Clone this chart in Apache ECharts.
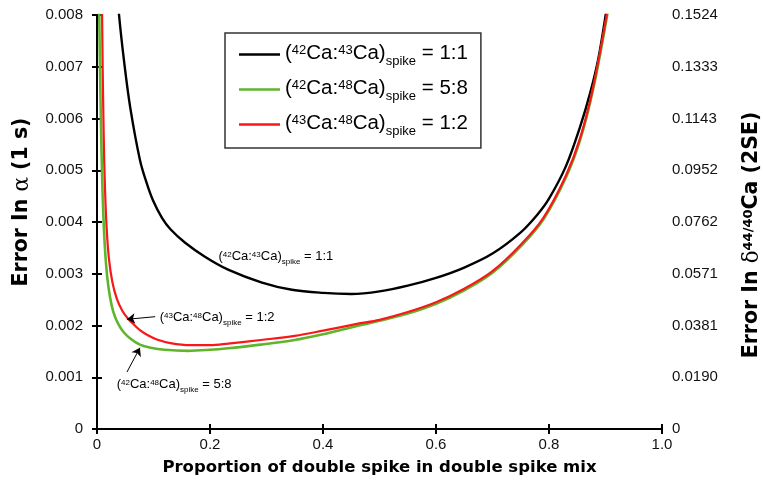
<!DOCTYPE html>
<html>
<head>
<meta charset="utf-8">
<script src="https://cdn.jsdelivr.net/npm/echarts@6/dist/echarts.min.js"></script>
<style>
  html, body { margin: 0; padding: 0; background: #fff; }
  #chart { width: 763px; height: 481px; }
</style>
</head>
<body>
<div id="chart"></div>
<script>
// proportion of double spike in mix -> error in alpha
const spike4243 = [
  [0.035, 0.0086], [0.039, 0.0080], [0.048, 0.0071], [0.059, 0.0062], [0.076, 0.0052],
  [0.088, 0.00475], [0.099, 0.00442], [0.115, 0.00408], [0.130, 0.00386], [0.156, 0.00360],
  [0.191, 0.00333], [0.232, 0.00308], [0.292, 0.00283], [0.345, 0.00269], [0.40, 0.00263],
  [0.45, 0.00261], [0.50, 0.00266], [0.55, 0.00277], [0.60, 0.00292], [0.65, 0.00312],
  [0.70, 0.00339], [0.75, 0.00380], [0.78, 0.00415], [0.80, 0.00445], [0.83, 0.00508],
  [0.855, 0.00584], [0.873, 0.00650], [0.887, 0.00714], [0.901, 0.00805], [0.904, 0.0083]
];
const spike4248 = [
  [0.003, 0.0086], [0.004, 0.0080], [0.005, 0.0072], [0.007, 0.0059], [0.009, 0.0049],
  [0.011, 0.0042], [0.014, 0.0035], [0.018, 0.00295], [0.023, 0.00255], [0.029, 0.00226],
  [0.038, 0.00202], [0.048, 0.00186], [0.060, 0.00174], [0.076, 0.00163], [0.095, 0.00157],
  [0.12, 0.00153], [0.161, 0.00151], [0.20, 0.00153], [0.232, 0.00156], [0.29, 0.00163],
  [0.35, 0.00172], [0.40, 0.00183], [0.46, 0.00199], [0.50, 0.00209], [0.55, 0.00223],
  [0.60, 0.00242], [0.65, 0.00268], [0.70, 0.00302], [0.75, 0.00353], [0.79, 0.00405],
  [0.83, 0.00486], [0.855, 0.00558], [0.878, 0.00656], [0.903, 0.0080], [0.906, 0.0083]
];
const spike4348 = [
  [0.008, 0.0086], [0.009, 0.0080], [0.010, 0.0070], [0.012, 0.0056], [0.014, 0.0047],
  [0.017, 0.0039], [0.021, 0.0033], [0.027, 0.00285], [0.035, 0.00252], [0.045, 0.00228],
  [0.055, 0.00213], [0.066, 0.00201], [0.076, 0.00191], [0.090, 0.00181], [0.106, 0.00173],
  [0.13, 0.00166], [0.165, 0.00162], [0.20, 0.00162], [0.232, 0.00165], [0.29, 0.00172],
  [0.35, 0.00180], [0.40, 0.00190], [0.46, 0.00203], [0.50, 0.00211], [0.55, 0.00226],
  [0.60, 0.00245], [0.65, 0.00271], [0.70, 0.00305], [0.75, 0.00356], [0.79, 0.00408],
  [0.83, 0.00490], [0.855, 0.00562], [0.878, 0.00660], [0.903, 0.00805], [0.906, 0.0083]
];
const xTickLabels = ['0', '0.2', '0.4', '0.6', '0.8', '1.0'];
const leftTickLabels = ['0', '0.001', '0.002', '0.003', '0.004', '0.005', '0.006', '0.007', '0.008'];
const rightTickLabels = ['0', '0.0190', '0.0381', '0.0571', '0.0762', '0.0952', '0.1143', '0.1333', '0.1524'];
const seriesNames = ['4243', '4248', '4348'];
const seriesRatios = [['42', '43', '1:1'], ['42', '48', '5:8'], ['43', '48', '1:2']];
const seriesColors = ['#000000', '#5fb52c', '#f81818'];

const font = 'Liberation Sans, Arial, sans-serif';
const titleFont = 'DejaVu Sans, sans-serif';

function ratioText(r) {
  return '{a|(}{p|' + r[0] + '}{a|Ca:}{p|' + r[1] + '}{a|Ca)}{b|spike}{a| = ' + r[2] + '}';
}
// every token hangs from the line top; paddings shift them down
function ratioRich(size) {
  let k = size / 20;
  let small = Math.round(size * 0.64);
  let lh = Math.round(26 * k);
  let base = { fontFamily: font, color: '#000', lineHeight: lh, verticalAlign: 'top' };
  return {
    a: Object.assign({}, base, { fontSize: size, padding: [Math.round(2 * k), 0, 0, 0] }),
    p: Object.assign({}, base, { fontSize: small, padding: [Math.round(3 * k), 0, 0, 0] }),
    b: Object.assign({}, base, { fontSize: small, padding: [Math.round(14 * k), 0, 0, 0] })
  };
}

const chart = echarts.init(document.getElementById('chart'));

const axisLine = { show: true, lineStyle: { color: '#000', width: 2 } };
const axisTick = { show: true, inside: true, length: 5, lineStyle: { color: '#000', width: 2 } };

chart.setOption({
  animation: false,
  backgroundColor: '#fff',
  grid: { left: 97, right: 101, top: 15, bottom: 52 },
  legend: {
    orient: 'vertical',
    left: 225,
    top: 33,
    padding: [8, 13, 10, 14],
    itemGap: 8,
    itemWidth: 41,
    itemHeight: 2.5,
    icon: 'rect',
    borderColor: '#333',
    borderWidth: 1.5,
    backgroundColor: '#fff',
    data: seriesNames,
    formatter: (name) => ratioText(seriesRatios[seriesNames.indexOf(name)]),
    textStyle: { rich: ratioRich(20.5) }
  },
  xAxis: [{
    type: 'value', position: 'bottom', min: 0, max: 1, interval: 0.2,
    axisLine: axisLine, axisTick: axisTick, splitLine: { show: false },
    axisLabel: {
      fontSize: 15, fontFamily: font, color: '#111', margin: 8,
      formatter: (v) => xTickLabels[Math.round(v / 0.2)]
    },
    name: 'Proportion of double spike in double spike mix',
    nameLocation: 'middle', nameGap: 30,
    nameTextStyle: { fontSize: 16.5, fontWeight: 'bold', fontFamily: titleFont, color: '#000' }
  }, {
    type: 'value', position: 'top', min: 0, max: 1, interval: 0.2,
    axisLine: axisLine, axisTick: axisTick, splitLine: { show: false },
    axisLabel: { show: false }
  }],
  yAxis: [{
    type: 'value', position: 'left', min: 0, max: 0.008, interval: 0.001,
    axisLine: axisLine, axisTick: axisTick, splitLine: { show: false },
    axisLabel: {
      fontSize: 15, fontFamily: font, color: '#111', margin: 14,
      formatter: (v) => leftTickLabels[Math.round(v / 0.001)]
    }
  }, {
    type: 'value', position: 'right', min: 0, max: 0.008, interval: 0.001,
    axisLine: axisLine, axisTick: axisTick, splitLine: { show: false },
    axisLabel: {
      fontSize: 15, fontFamily: font, color: '#111', margin: 10,
      formatter: (v) => rightTickLabels[Math.round(v / 0.001)]
    }
  }],
  graphic: [{
    type: 'text', x: 22, y: 202, rotation: Math.PI / 2,
    style: {
      text: '{a|Error In }{g|α}{a| (1 s)}',
      align: 'center', verticalAlign: 'middle',
      rich: {
        a: { fontSize: 20.5, fontWeight: 'bold', fontFamily: titleFont, fill: '#000' },
        g: { fontSize: 21.5, fontFamily: 'DejaVu Serif, serif', fill: '#000' }
      }
    }
  }, {
    type: 'text', x: 752, y: 235, rotation: Math.PI / 2,
    style: {
      text: '{a|Error In }{g|δ}{s|44/40}{a|Ca (2SE)}',
      align: 'center', verticalAlign: 'middle',
      rich: {
        a: { fontSize: 20.5, fontWeight: 'bold', fontFamily: titleFont, fill: '#000', lineHeight: 26 },
        g: { fontSize: 21.5, fontFamily: 'DejaVu Serif, serif', fill: '#000', lineHeight: 26 },
        s: { fontSize: 13, fontWeight: 'bold', fontFamily: titleFont, fill: '#000', lineHeight: 26,
             verticalAlign: 'top', padding: [3, 0, 0, 0] }
      }
    }
  }],
  series: [{
    name: seriesNames[0], type: 'line', data: spike4243,
    symbol: 'none', smooth: 0.35, clip: true,
    lineStyle: { color: seriesColors[0], width: 2.4 }, itemStyle: { color: seriesColors[0] },
    markPoint: {
      silent: true, symbol: 'circle', symbolSize: 1, itemStyle: { color: 'rgba(0,0,0,0)' },
      label: { show: true, position: 'right', distance: 0, formatter: ratioText(seriesRatios[0]), rich: ratioRich(13) },
      data: [{ coord: [0.214, 0.00332] }]
    }
  }, {
    name: seriesNames[1], type: 'line', data: spike4248,
    symbol: 'none', smooth: 0.35, clip: true,
    lineStyle: { color: seriesColors[1], width: 2.6 }, itemStyle: { color: seriesColors[1] },
    markPoint: {
      silent: true, symbol: 'circle', symbolSize: 1, itemStyle: { color: 'rgba(0,0,0,0)' },
      label: { show: true, position: 'right', distance: 0, formatter: ratioText(seriesRatios[1]), rich: ratioRich(13) },
      data: [{ coord: [0.034, 0.00085] }]
    },
    markLine: {
      silent: true, symbol: ['none', 'arrow'], symbolSize: 8,
      itemStyle: { color: '#000' },
      lineStyle: { color: '#000', width: 1, type: 'solid' }, label: { show: false },
      data: [[{ coord: [0.053, 0.0011] }, { coord: [0.076, 0.00157] }]]
    }
  }, {
    name: seriesNames[2], type: 'line', data: spike4348,
    symbol: 'none', smooth: 0.35, clip: true,
    lineStyle: { color: seriesColors[2], width: 2.2 }, itemStyle: { color: seriesColors[2] },
    markPoint: {
      silent: true, symbol: 'circle', symbolSize: 1, itemStyle: { color: 'rgba(0,0,0,0)' },
      label: { show: true, position: 'right', distance: 0, formatter: ratioText(seriesRatios[2]), rich: ratioRich(13) },
      data: [{ coord: [0.110, 0.00213] }]
    },
    markLine: {
      silent: true, symbol: ['none', 'arrow'], symbolSize: 8,
      itemStyle: { color: '#000' },
      lineStyle: { color: '#000', width: 1, type: 'solid' }, label: { show: false },
      data: [[{ coord: [0.103, 0.00217] }, { coord: [0.053, 0.00212] }]]
    }
  }]
});
</script>
</body>
</html>
